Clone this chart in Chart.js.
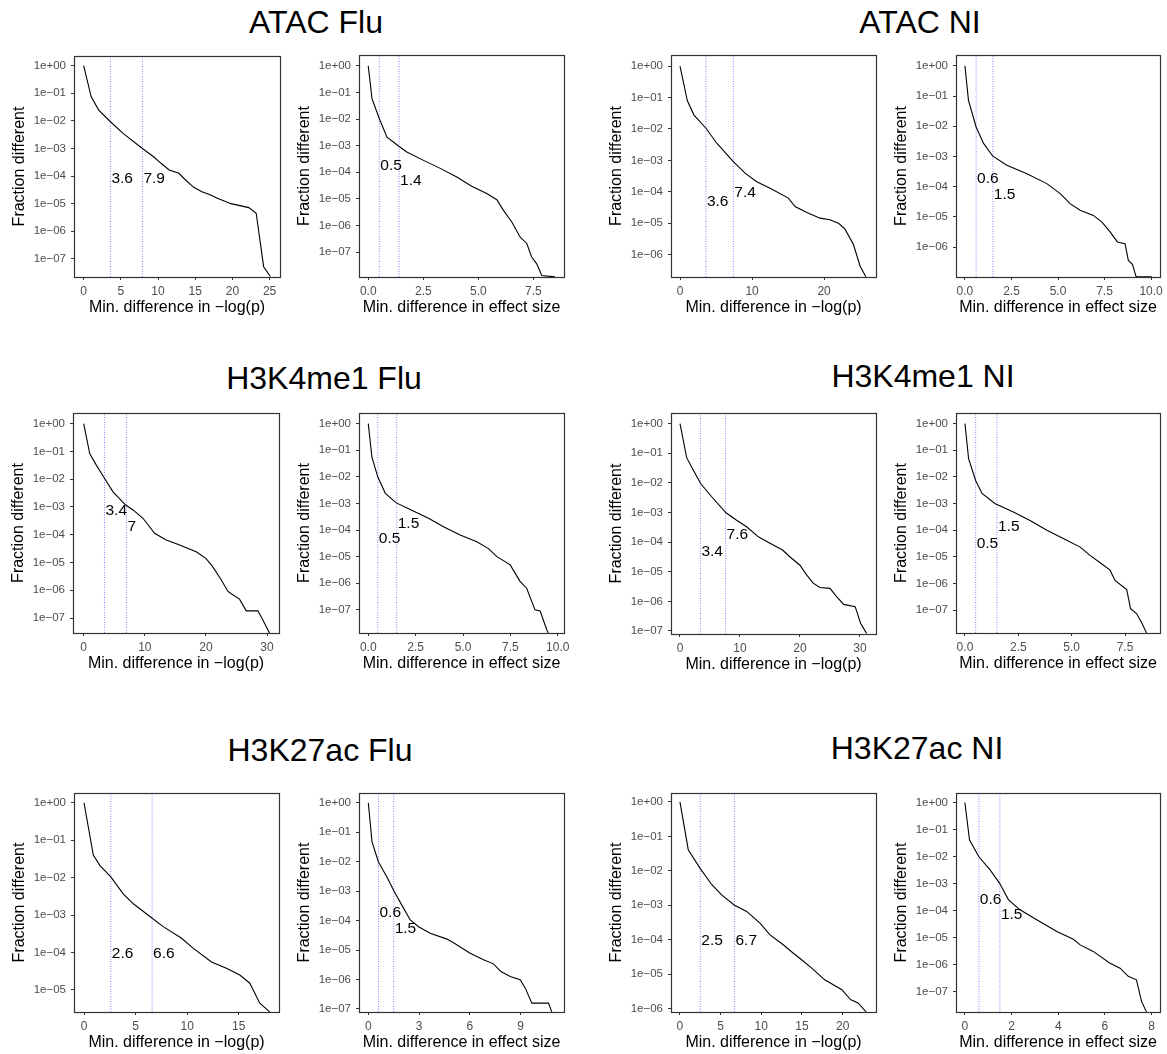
<!DOCTYPE html>
<html>
<head>
<meta charset="utf-8">
<script src="https://cdn.jsdelivr.net/npm/chart.js@4.4.1/dist/chart.umd.min.js"></script>
<style>
  html, body { margin: 0; padding: 0; background: #fff; }
  #page { position: relative; width: 1167px; height: 1054px; overflow: hidden; font-family: "Liberation Sans", Arial, Helvetica, sans-serif; }
  .title { position: absolute; transform: translate(-50%, -50%); font-size: 32px; color: #000; white-space: nowrap; }
  canvas { position: absolute; }
</style>
</head>
<body>
<div id="page"></div>
<script>
const FONT = '"Liberation Sans", Arial, Helvetica, sans-serif';

// ---- data: min. difference (x) vs fraction different (y) ----
// ATAC Flu
const atacFluP_x = [0, 1, 2, 3.6, 5.3, 7.9, 9.4, 10.4, 11.5, 12.8, 13.7, 14.8, 15.9, 17, 17.9, 19.8, 22.2, 23.2, 24.2, 25.1];
const atacFluP_y = [1, 7.6e-2, 2.5e-2, 9.3e-3, 3.5e-3, 1e-3, 5e-4, 2.9e-4, 1.66e-4, 1.26e-4, 7.2e-5, 3.9e-5, 2.7e-5, 2.1e-5, 1.6e-5, 1e-5, 7.2e-6, 4.5e-6, 5.2e-8, 2.3e-8];
const atacFluES_x = [0, 0.17, 0.5, 0.85, 1.39, 1.75, 2.51, 3.27, 4.02, 4.7, 5.38, 5.84, 6.14, 6.52, 6.9, 7.2, 7.42, 7.65, 7.88, 8.48];
const atacFluES_y = [1, 5.9e-2, 1.05e-2, 2.1e-3, 9.5e-4, 5.8e-4, 2.8e-4, 1.4e-4, 6.6e-5, 3.0e-5, 1.6e-5, 9.3e-6, 3.7e-6, 1.35e-6, 3.6e-7, 2.1e-7, 6.5e-8, 3.6e-8, 1.3e-8, 1.16e-8];
// ATAC NI
const atacNiP_x = [0, 1.02, 1.94, 3.61, 5.1, 7.4, 9.03, 10.65, 12.5, 15.04, 15.97, 17.6, 19.44, 20.8, 22, 22.9, 24.07, 25, 25.8];
const atacNiP_y = [1, 7.8e-2, 2.75e-2, 1.05e-2, 3.5e-3, 9.1e-4, 3.9e-4, 2.1e-4, 1.29e-4, 6.3e-5, 3.4e-5, 2.2e-5, 1.45e-5, 1.29e-5, 1e-5, 6.5e-6, 2.1e-6, 4.3e-7, 2.0e-7];
const atacNiES_x = [0, 0.19, 0.6, 1.0, 1.5, 2.25, 3.33, 4.4, 5.12, 5.65, 6.19, 6.9, 7.35, 7.8, 8.19, 8.6, 8.78, 9.0, 9.2, 10.04];
const atacNiES_y = [1, 7.2e-2, 9.5e-3, 2.7e-3, 1.02e-3, 5.1e-4, 2.7e-4, 1.26e-4, 5.9e-5, 2.75e-5, 1.66e-5, 1.12e-5, 6.8e-6, 3.2e-6, 1.48e-6, 1.29e-6, 3.6e-7, 2.7e-7, 1.03e-7, 1.03e-7];
// H3K4me1 Flu
const k4FluP_x = [0, 0.98, 2.07, 3.4, 4.8, 6.87, 8.07, 9.7, 11.6, 13.5, 15.7, 18.4, 20.0, 21.1, 22.5, 23.6, 24.4, 25.5, 26.6, 28.5, 29.3, 30.4];
const k4FluP_y = [1, 8.3e-2, 3.2e-2, 1.07e-2, 3.5e-3, 1.17e-3, 7.8e-4, 3.9e-4, 1.12e-4, 6.5e-5, 4.3e-5, 2.45e-5, 1.41e-5, 7.1e-6, 2.4e-6, 9.1e-7, 6.9e-7, 4.8e-7, 1.82e-7, 1.82e-7, 8.7e-8, 2.9e-8];
const k4FluES_x = [0, 0.19, 0.5, 0.9, 1.48, 2.21, 3.18, 3.97, 4.85, 5.73, 6.34, 6.79, 7.49, 7.75, 8.02, 8.36, 8.8, 9.07, 9.42, 9.5];
const k4FluES_y = [1, 5.6e-2, 1.0e-2, 2.4e-3, 1.05e-3, 5.9e-4, 2.75e-4, 1.32e-4, 6.5e-5, 3.6e-5, 2.0e-5, 1.0e-5, 4.9e-6, 2.4e-6, 1.15e-6, 6.5e-7, 1.0e-7, 9.1e-8, 1.8e-8, 1.36e-8];
// H3K4me1 NI
const k4NiP_x = [0, 1.11, 2.2, 3.44, 5.28, 7.67, 9.44, 11.1, 13.06, 15, 17.1, 18.3, 20, 21.1, 22.2, 23.3, 25, 26.1, 27.3, 29.2, 30.1, 31.1];
const k4NiP_y = [1, 7.1e-2, 2.7e-2, 9.5e-3, 3.4e-3, 9.8e-4, 5.5e-4, 3.3e-4, 1.51e-4, 9.1e-5, 5.4e-5, 3.2e-5, 1.66e-5, 7.8e-6, 4.1e-6, 2.95e-6, 2.75e-6, 1.45e-6, 7.9e-7, 6.6e-7, 1.82e-7, 8.3e-8];
const k4NiES_x = [0, 0.17, 0.5, 0.8, 1.42, 2.27, 3.05, 3.84, 4.77, 5.4, 5.86, 6.4, 6.8, 7.03, 7.58, 7.76, 8.04, 8.27, 8.51];
const k4NiES_y = [1, 4.9e-2, 7.4e-3, 2.4e-3, 1.0e-3, 4.9e-4, 2.35e-4, 1.0e-4, 4.2e-5, 2.35e-5, 1.15e-5, 5.6e-6, 3.2e-6, 1.32e-6, 6.0e-7, 1.15e-7, 7.6e-8, 3.6e-8, 1.42e-8];
// H3K27ac Flu
const k27FluP_x = [0, 0.9, 1.55, 2.6, 3.8, 4.78, 6.2, 7.68, 9.46, 10.6, 12.36, 13.8, 15.1, 16.07, 17.04, 18.0];
const k27FluP_y = [1, 4.0e-2, 2.1e-2, 1.05e-2, 3.7e-3, 2.0e-3, 1.0e-3, 4.9e-4, 2.4e-4, 1.29e-4, 5.6e-5, 3.8e-5, 2.5e-5, 1.51e-5, 4.4e-6, 2.6e-6];
const k27FluES_x = [0, 0.22, 0.6, 1.1, 1.54, 2.09, 2.48, 2.97, 3.66, 4.65, 5.04, 6.02, 6.81, 7.4, 7.84, 8.39, 8.98, 9.28, 9.67, 10.65, 10.85];
const k27FluES_y = [1, 4.7e-2, 9.8e-3, 3.0e-3, 9.5e-4, 2.6e-4, 1.05e-4, 6.2e-5, 3.7e-5, 2.35e-5, 1.78e-5, 7.8e-6, 4.7e-6, 3.4e-6, 1.86e-6, 1.26e-6, 9.8e-7, 5.1e-7, 1.58e-7, 1.58e-7, 8.0e-8];
// H3K27ac NI
const k27NiP_x = [0, 1.02, 2.46, 3.9, 5.12, 6.66, 8.2, 9.84, 11.07, 12.7, 13.9, 14.96, 16.2, 17.8, 19.9, 21.0, 21.9, 22.9];
const k27NiP_y = [1, 4.1e-2, 1.2e-2, 4.0e-3, 2.0e-3, 1.02e-3, 6.6e-4, 3.0e-4, 1.38e-4, 7.1e-5, 4.1e-5, 2.6e-5, 1.48e-5, 6.8e-6, 3.5e-6, 1.78e-6, 1.45e-6, 7.9e-7];
const k27NiES_x = [0, 0.2, 0.6, 1.08, 1.49, 1.87, 2.36, 3.08, 3.94, 4.65, 4.94, 5.5, 6.2, 6.65, 7.0, 7.35, 7.57, 7.78];
const k27NiES_y = [1, 4.1e-2, 9.8e-3, 3.2e-3, 1.02e-3, 2.5e-4, 1.07e-4, 4.6e-5, 1.7e-5, 8.7e-6, 5.4e-6, 3.1e-6, 1.15e-6, 7.4e-7, 3.7e-7, 2.75e-7, 4.4e-8, 1.8e-8];

// cut-offs (dotted lines) and the height of their labels
const atacFluP_cut = [3.6, 7.9],  atacFluP_labY = [8.3e-5, 8.3e-5];
const atacFluES_cut = [0.5, 1.4], atacFluES_labY = [1.8e-4, 5.0e-5];
const atacNiP_cut = [3.6, 7.4],   atacNiP_labY = [4.7e-5, 9.1e-5];
const atacNiES_cut = [0.6, 1.5],  atacNiES_labY = [1.86e-4, 5.5e-5];
const k4FluP_cut = [3.4, 7],      k4FluP_labY = [7.2e-4, 1.95e-4];
const k4FluES_cut = [0.5, 1.5],   k4FluES_labY = [4.9e-5, 1.78e-4];
const k4NiP_cut = [3.4, 7.6],     k4NiP_labY = [4.7e-5, 1.74e-4];
const k4NiES_cut = [0.5, 1.5],    k4NiES_labY = [3.2e-5, 1.32e-4];
const k27FluP_cut = [2.6, 6.6],   k27FluP_labY = [9.5e-5, 9.5e-5];
const k27FluES_cut = [0.6, 1.5],  k27FluES_labY = [1.86e-4, 5.5e-5];
const k27NiP_cut = [2.5, 6.7],    k27NiP_labY = [9.3e-5, 9.3e-5];
const k27NiES_cut = [0.6, 1.5],   k27NiES_labY = [2.6e-4, 6.9e-5];

const titles = ['ATAC Flu', 'ATAC NI', 'H3K4me1 Flu', 'H3K4me1 NI', 'H3K27ac Flu', 'H3K27ac NI'];
const xLabP = 'Min. difference in \u2212log(p)';
const xLabES = 'Min. difference in effect size';
const yLab = 'Fraction different';

const panels = [
  {key: 'atacFluP', x: atacFluP_x, y: atacFluP_y, cut: atacFluP_cut, labY: atacFluP_labY, xTitle: xLabP, xTicks: [0, 5, 10, 15, 20, 25], dec: 0, xMin: -1.3, xMax: 26.4, yMin: 2.2e-8, yMax: 2.24},
  {key: 'atacFluES', x: atacFluES_x, y: atacFluES_y, cut: atacFluES_cut, labY: atacFluES_labY, xTitle: xLabES, xTicks: [0, 2.5, 5, 7.5], dec: 1, xMin: -0.42, xMax: 8.89, yMin: 1.15e-8, yMax: 2.57},
  {key: 'atacNiP', x: atacNiP_x, y: atacNiP_y, cut: atacNiP_cut, labY: atacNiP_labY, xTitle: xLabP, xTicks: [0, 10, 20], dec: 0, xMin: -1.25, xMax: 27.2, yMin: 1.95e-7, yMax: 2.24},
  {key: 'atacNiES', x: atacNiES_x, y: atacNiES_y, cut: atacNiES_cut, labY: atacNiES_labY, xTitle: xLabES, xTicks: [0, 2.5, 5, 7.5, 10], dec: 1, xMin: -0.48, xMax: 10.48, yMin: 1.02e-7, yMax: 2.29},
  {key: 'k4FluP', x: k4FluP_x, y: k4FluP_y, cut: k4FluP_cut, labY: k4FluP_labY, xTitle: xLabP, xTicks: [0, 10, 20, 30], dec: 0, xMin: -1.75, xMax: 31.96, yMin: 2.9e-8, yMax: 2.4},
  {key: 'k4FluES', x: k4FluES_x, y: k4FluES_y, cut: k4FluES_cut, labY: k4FluES_labY, xTitle: xLabES, xTicks: [0, 2.5, 5, 7.5, 10], dec: 1, xMin: -0.49, xMax: 10.33, yMin: 1.35e-8, yMax: 2.51},
  {key: 'k4NiP', x: k4NiP_x, y: k4NiP_y, cut: k4NiP_cut, labY: k4NiP_labY, xTitle: xLabP, xTicks: [0, 10, 20, 30], dec: 0, xMin: -1.5, xMax: 32.67, yMin: 7.9e-8, yMax: 2.29},
  {key: 'k4NiES', x: k4NiES_x, y: k4NiES_y, cut: k4NiES_cut, labY: k4NiES_labY, xTitle: xLabES, xTicks: [0, 2.5, 5, 7.5], dec: 1, xMin: -0.42, xMax: 9.14, yMin: 1.41e-8, yMax: 2.51},
  {key: 'k27FluP', x: k27FluP_x, y: k27FluP_y, cut: k27FluP_cut, labY: k27FluP_labY, xTitle: xLabP, xTicks: [0, 5, 10, 15], dec: 0, xMin: -0.97, xMax: 18.9, yMin: 2.57e-6, yMax: 1.82},
  {key: 'k27FluES', x: k27FluES_x, y: k27FluES_y, cut: k27FluES_cut, labY: k27FluES_labY, xTitle: xLabES, xTicks: [0, 3, 6, 9], dec: 0, xMin: -0.55, xMax: 11.57, yMin: 7.9e-8, yMax: 2.14},
  {key: 'k27NiP', x: k27NiP_x, y: k27NiP_y, cut: k27NiP_cut, labY: k27NiP_labY, xTitle: xLabP, xTicks: [0, 5, 10, 15, 20], dec: 0, xMin: -1.1, xMax: 24.1, yMin: 7.9e-7, yMax: 1.82},
  {key: 'k27NiES', x: k27NiES_x, y: k27NiES_y, cut: k27NiES_cut, labY: k27NiES_labY, xTitle: xLabES, xTicks: [0, 2, 4, 6, 8], dec: 0, xMin: -0.38, xMax: 8.36, yMin: 1.78e-8, yMax: 2.24}
];

// ---- layout: plot box of each panel (left, top, right, bottom) ----
const boxes = {
  atacFluP: [74, 56, 280, 277],  atacFluES: [359, 55, 564, 277],
  atacNiP: [671, 55, 876, 277],  atacNiES: [956, 55, 1160, 277],
  k4FluP: [73, 413, 279, 633],   k4FluES: [359, 413, 564, 633],
  k4NiP: [671, 413, 876, 634],   k4NiES: [956, 413, 1160, 633],
  k27FluP: [74, 793, 279, 1012], k27FluES: [359, 793, 564, 1012],
  k27NiP: [671, 793, 876, 1012], k27NiES: [956, 793, 1160, 1012]
};
const titlePos = [[316, 22], [920, 22], [324, 378], [923, 376], [320, 750], [917, 748]];

const yW = 64, xH = 40, padTop = 14, padRight = 14;
const page = document.getElementById('page');

titles.forEach((t, i) => {
  const d = document.createElement('div');
  d.className = 'title';
  d.textContent = t;
  d.style.left = titlePos[i][0] + 'px';
  d.style.top = titlePos[i][1] + 'px';
  page.appendChild(d);
});

function fmtSci(v) {
  const e = Math.round(Math.log10(v));
  return '1e' + (e < 0 ? '\u2212' : '+') + String(Math.abs(e)).padStart(2, '0');
}

// border box + cut-off labels
const panelExtras = {
  id: 'panelExtras',
  afterDatasetsDraw(chart, args, opts) {
    const {ctx, scales: {x, y}} = chart;
    ctx.save();
    ctx.font = '15.5px ' + FONT;
    ctx.fillStyle = '#000';
    ctx.textAlign = 'left';
    ctx.textBaseline = 'middle';
    opts.cut.forEach((c, i) => {
      ctx.fillText(String(c), x.getPixelForValue(c) + 1, y.getPixelForValue(opts.labY[i]));
    });
    ctx.restore();
  },
  afterDraw(chart) {
    const {ctx, chartArea: a} = chart;
    ctx.save();
    ctx.strokeStyle = '#333333';
    ctx.lineWidth = 1.2;
    ctx.strokeRect(Math.round(a.left) + 0.5, Math.round(a.top) + 0.5, Math.round(a.right - a.left), Math.round(a.bottom - a.top));
    ctx.restore();
  }
};

panels.forEach(p => {
  const [L, T, R, B] = boxes[p.key];
  const cv = document.createElement('canvas');
  const w = R - L + yW + padRight, h = B - T + padTop + xH;
  cv.width = w; cv.height = h;
  cv.style.left = (L - yW) + 'px';
  cv.style.top = (T - padTop) + 'px';
  cv.style.width = w + 'px'; cv.style.height = h + 'px';
  page.appendChild(cv);

  const datasets = [{
    data: p.x.map((v, i) => ({x: v, y: p.y[i]})),
    borderColor: '#000', borderWidth: 1.1, pointRadius: 0, tension: 0
  }];
  p.cut.forEach(c => datasets.push({
    data: [{x: c, y: p.yMin}, {x: c, y: p.yMax}],
    borderColor: '#6a6aff', borderWidth: 0.8, borderDash: [1, 1.5], pointRadius: 0
  }));

  const expTop = 0, expBot = Math.ceil(Math.log10(p.yMin) - 1e-9);

  new Chart(cv, {
    type: 'line',
    data: {datasets},
    options: {
      responsive: false, animation: false, events: [],
      layout: {padding: {top: padTop, right: padRight, left: 0, bottom: 0}},
      plugins: {legend: {display: false}, tooltip: {enabled: false}, panelExtras: {cut: p.cut, labY: p.labY}},
      scales: {
        x: {
          type: 'linear', min: p.xMin, max: p.xMax,
          afterBuildTicks: s => { s.ticks = p.xTicks.map(v => ({value: v})); },
          afterFit: s => { s.height = xH; },
          ticks: {callback: v => Number(v).toFixed(p.dec), color: '#4d4d4d', font: {family: FONT, size: 12}, padding: 4, maxRotation: 0, autoSkip: false},
          grid: {drawOnChartArea: false, drawTicks: true, tickLength: 3, color: '#333333'},
          border: {display: false},
          title: {display: true, text: p.xTitle, color: '#000', font: {family: FONT, size: 16}, padding: {top: 0, bottom: 0}}
        },
        y: {
          type: 'logarithmic', min: p.yMin, max: p.yMax,
          afterBuildTicks: s => {
            const t = [];
            for (let e = expBot; e <= expTop; e++) t.push({value: Math.pow(10, e)});
            s.ticks = t;
          },
          afterFit: s => { s.width = yW; },
          ticks: {callback: v => fmtSci(v), color: '#4d4d4d', font: {family: FONT, size: 11.5}, padding: 5, autoSkip: false},
          grid: {drawOnChartArea: false, drawTicks: true, tickLength: 3, color: '#333333'},
          border: {display: false},
          title: {display: true, text: yLab, color: '#000', font: {family: FONT, size: 16}, padding: {top: 0, bottom: 0}}
        }
      }
    },
    plugins: [panelExtras]
  });
});
</script>
</body>
</html>
